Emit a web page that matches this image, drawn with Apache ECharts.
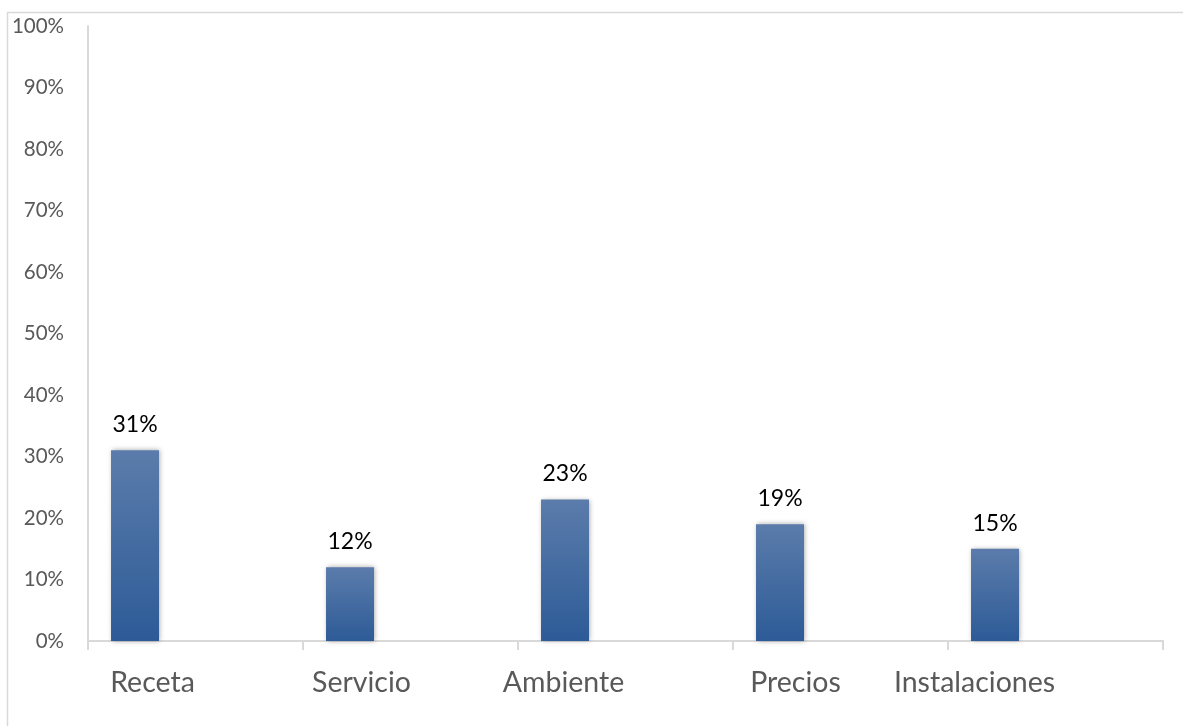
<!DOCTYPE html>
<html>
<head>
<meta charset="utf-8">
<title>Valoración</title>
<script src="https://cdn.jsdelivr.net/npm/echarts@6/dist/echarts.min.js"></script>
<style>
  html, body { margin: 0; padding: 0; background: #ffffff; }
  #chart { width: 1183px; height: 726px; }
</style>
</head>
<body>
<div id="chart"></div>
<script>
// Categories and their shares (percent)
const categories = ['Receta', 'Servicio', 'Ambiente', 'Precios', 'Instalaciones'];
const shares = [31, 12, 23, 19, 15];
// Unused companion series slot (keeps the bars at the left of each band)
const companion = [null, null, null, null, null];

// Horizontal nudge (px, leftwards) for each category label
const labelNudge = [43, 49, 62, 45, 81];

const FONT = 'Lato, "Liberation Sans", sans-serif';
const GRID_LINE = '#d9d9d9';

const rich = {};
labelNudge.forEach((n, i) => {
  rich['c' + i] = {
    fontFamily: FONT,
    fontSize: 28.5,
    color: '#595959',
    padding: [0, 2 * n, 0, 0]
  };
});

const chart = echarts.init(document.getElementById('chart'), null, { renderer: 'canvas' });

chart.setOption({
  animation: false,
  backgroundColor: '#ffffff',
  graphic: [{
    type: 'rect',
    shape: { x: 7.5, y: 12.5, width: 1300, height: 800 },
    style: { fill: 'none', stroke: GRID_LINE, lineWidth: 1.5 },
    silent: true,
    z: -10
  }],
  grid: { left: 88, right: 20, top: 26, bottom: 85, containLabel: false },
  xAxis: {
    type: 'category',
    data: categories,
    axisLine: { show: true, lineStyle: { color: GRID_LINE, width: 2 } },
    axisTick: { show: true, length: 9, interval: 0, lineStyle: { color: GRID_LINE, width: 2 } },
    axisLabel: {
      interval: 0,
      margin: 27,
      formatter: (v, i) => '{c' + i + '|' + v + '}',
      rich: rich
    },
    splitLine: { show: false }
  },
  yAxis: {
    type: 'value',
    min: 0,
    max: 100,
    interval: 10,
    axisLine: { show: true, lineStyle: { color: GRID_LINE, width: 2 } },
    axisTick: { show: false },
    splitLine: { show: false },
    axisLabel: {
      margin: 24,
      fontFamily: FONT,
      fontSize: 20.5,
      color: '#595959',
      formatter: '{value}%'
    }
  },
  series: [
    {
      type: 'bar',
      data: shares,
      barWidth: 48,
      barGap: '152%',
      itemStyle: {
        color: new echarts.graphic.LinearGradient(0, 0, 0, 1, [
          { offset: 0, color: '#5b7cab' },
          { offset: 1, color: '#2d5b97' }
        ]),
        shadowColor: 'rgba(0,0,0,0.35)',
        shadowBlur: 5,
        shadowOffsetX: 1,
        shadowOffsetY: 0
      },
      label: {
        show: true,
        position: 'top',
        distance: 14,
        fontFamily: FONT,
        fontSize: 23,
        color: '#000000',
        formatter: '{c}%'
      }
    },
    {
      type: 'bar',
      data: companion,
      barWidth: 48,
      silent: true
    }
  ]
});
</script>
</body>
</html>
